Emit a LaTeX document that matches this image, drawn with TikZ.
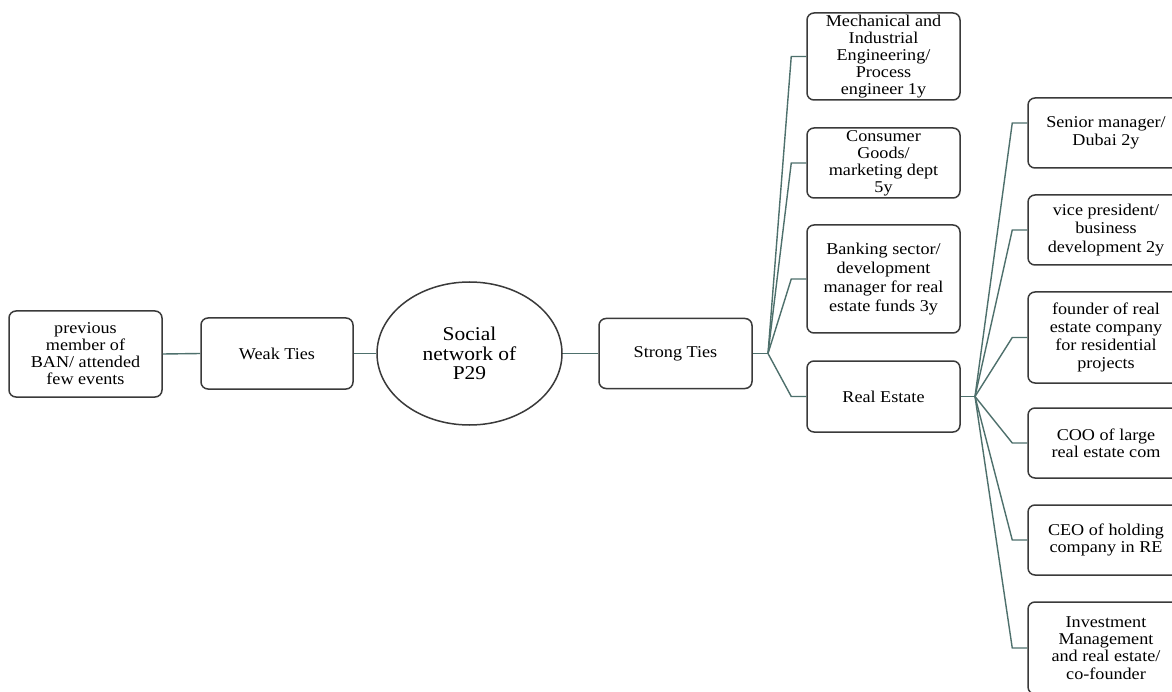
\documentclass[tikz,border=0pt]{standalone}
\usepackage{fontspec}
\setmainfont{Liberation Serif}[FakeStretch=1.1]
\usetikzlibrary{shapes.geometric}
\definecolor{linkcol}{HTML}{4E706C}
\definecolor{boxcol}{HTML}{3A3A3A}
\tikzset{
  box/.style={draw=boxcol, line width=1.5pt, rounded corners=7pt, align=center,
    inner sep=0pt, font=\fontsize{16.5}{17}\selectfont, text=black},
  ovalbox/.style={draw=boxcol, line width=1.5pt, ellipse, align=center, inner sep=0pt,
    minimum width=185pt, minimum height=143pt, font=\fontsize{19.5}{19.5}\selectfont},
  link/.style={draw=linkcol, line width=1.4pt},
}
\begin{document}
\begin{tikzpicture}[x=1pt,y=-1pt]
\useasboundingbox (0,0) rectangle (1172,692);
\clip (0,0) rectangle (1172,692);
\fill[white] (0,0) rectangle (1172,692);

% left branch and centre
\node[box, minimum width=153pt, minimum height=86pt] (prev) at (85.5,354)
  {previous\\member of\\BAN/ attended\\few events};
\node[box, minimum width=152pt, minimum height=71pt] (weak) at (277,353.5) {Weak Ties};
\node[ovalbox] (social) at (469.5,353.5) {Social\\network of\\P29};
\node[box, minimum width=153pt, minimum height=70pt] (strong) at (675.5,353.5) {Strong Ties};

% strong ties column
\node[box, minimum width=153pt, minimum height=87pt] (mech) at (883.5,56.5)
  {Mechanical and\\Industrial\\Engineering/\\Process\\engineer 1y};
\node[box, minimum width=153pt, minimum height=70pt] (cons) at (883.5,163)
  {Consumer\\Goods/\\marketing dept\\5y};
\node[box, minimum width=153pt, minimum height=108pt,
  font=\fontsize{16.5}{19}\selectfont] (bank) at (883.5,279)
  {Banking sector/\\development\\manager for real\\estate funds 3y};
\node[box, minimum width=153pt, minimum height=71pt] (re) at (883.5,396.5) {Real Estate};

% real estate column
\node[box, minimum width=156pt, minimum height=70pt,
  font=\fontsize{16.5}{18.5}\selectfont] (senior) at (1106,133)
  {Senior manager/\\Dubai 2y};
\node[box, minimum width=156pt, minimum height=70pt,
  font=\fontsize{16.5}{18.3}\selectfont] (vice) at (1106,230)
  {vice president/\\business\\development 2y};
\node[box, minimum width=156pt, minimum height=91pt,
  font=\fontsize{16.5}{17.8}\selectfont] (founder) at (1106,337.5)
  {founder of real\\estate company\\for residential\\projects};
\node[box, minimum width=156pt, minimum height=70pt] (coo) at (1106,443)
  {COO of large\\real estate com};
\node[box, minimum width=156pt, minimum height=70pt] (ceo) at (1106,540)
  {CEO of holding\\company in RE};
\node[box, minimum width=156pt, minimum height=92pt,
  font=\fontsize{16.5}{17.3}\selectfont] (inv) at (1106,648)
  {Investment\\Management\\and real estate/\\co-founder};

% junction points
\coordinate (j1) at (768,353.5);
\coordinate (j2) at (975,396.5);

% connectors
\draw[link] (prev.east) -- (weak.west);
\draw[link] (weak.east) -- (social.west);
\draw[link] (social.east) -- (strong.west);
\draw[link] (strong.east) -- (j1);
\foreach \n in {mech,cons,bank,re}
  \draw[link] (j1) -- ([xshift=-15pt]\n.west) -- (\n.west);
\draw[link] (re.east) -- (j2);
\draw[link] (j2) -- ([xshift=-15pt,yshift=10pt]senior.west) -- ([yshift=10pt]senior.west);
\foreach \n in {vice,founder,coo,ceo,inv}
  \draw[link] (j2) -- ([xshift=-15pt]\n.west) -- (\n.west);
\end{tikzpicture}
\end{document}
